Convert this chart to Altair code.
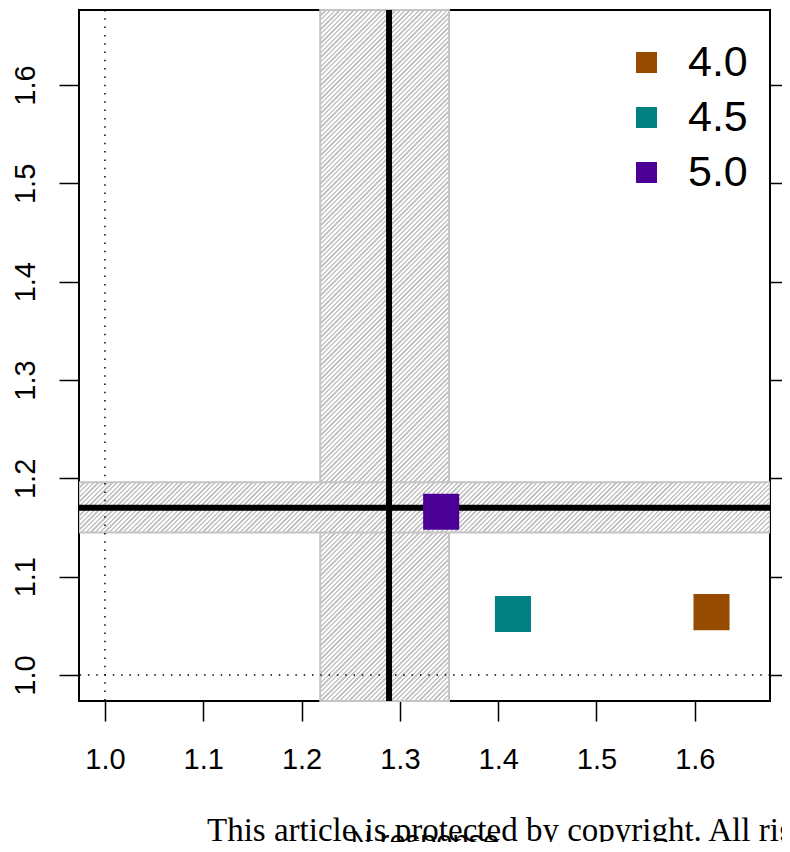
import altair as alt
import pandas as pd

# data
groups = ["4.0", "4.5", "5.0"]
n_resp = [1.617, 1.415, 1.342]
p_resp = [1.064, 1.062, 1.166]
colors = ["#964B00", "#008080", "#4B0096"]

x_est, x_lo, x_hi = 1.289, 1.219, 1.350
y_est, y_lo, y_hi = 1.170, 1.145, 1.196

x_dom = [0.9736, 1.6765]
y_dom = [0.9736, 1.6763]
ticks = [1.0, 1.1, 1.2, 1.3, 1.4, 1.5, 1.6]

FONT = "Liberation Sans"
W, H = 691, 691


def hatch(bw, bh, period=3.3, frac=0.45, col="#c6c6c6", bg="#ffffff"):
    """linear-gradient fill that imitates '////' hatching on a bw x bh px box"""
    k = 1.2 / max(bw, bh)
    x2, y2 = k * bw, k * bh
    px_per_t = k * (bw * bw + bh * bh) / 2 ** 0.5
    dt = period / px_per_t
    stops = []
    t = 0.0
    while t < 1.0:
        a = t
        b = min(t + dt * frac, 1.0)
        c = min(t + dt, 1.0)
        stops += [{"offset": a, "color": col}, {"offset": b, "color": col},
                  {"offset": b, "color": bg}, {"offset": c, "color": bg}]
        t += dt
    return {"gradient": "linear", "x1": 0, "y1": 0, "x2": x2, "y2": y2, "stops": stops}


vb_w = (x_hi - x_lo) / (x_dom[1] - x_dom[0]) * W
hb_h = (y_hi - y_lo) / (y_dom[1] - y_dom[0]) * H

pts = pd.DataFrame({"g": groups, "x": n_resp, "y": p_resp})
xs = alt.Scale(domain=x_dom, nice=False, zero=False)
ys = alt.Scale(domain=y_dom, nice=False, zero=False)

xaxis = alt.Axis(values=ticks, format=".1f", grid=False, domain=False, tickSize=20,
                 tickWidth=1.5, tickColor="black", labelFontSize=29, labelFont=FONT,
                 labelColor="black", labelPadding=24, title="N response",
                 titleFont=FONT, titleFontSize=29, titleFontWeight="normal",
                 titleColor="black", titlePadding=53)
yaxis = alt.Axis(orient="left", values=ticks, format=".1f", grid=False, domain=False, tickSize=20,
                 tickWidth=1.5, tickColor="black", labelFontSize=29, labelFont=FONT,
                 labelColor="black", labelAngle=270, labelAlign="center",
                 labelBaseline="bottom", labelPadding=19, title=None)

vband = alt.Chart(pd.DataFrame({"a": [x_lo], "b": [x_hi], "c": [y_dom[0]], "d": [y_dom[1]]})).mark_rect(
    fill=hatch(vb_w, H), stroke="#c4c4c4", strokeWidth=2
).encode(x=alt.X("a:Q", scale=xs, axis=xaxis), x2="b", y=alt.Y("c:Q", scale=ys, axis=yaxis), y2="d")

hband = alt.Chart(pd.DataFrame({"a": [x_dom[0]], "b": [x_dom[1]], "c": [y_lo], "d": [y_hi]})).mark_rect(
    fill=hatch(W, hb_h), stroke="#c4c4c4", strokeWidth=2, clip=True
).encode(x=alt.X("a:Q", scale=xs), x2="b", y=alt.Y("c:Q", scale=ys, axis=None), y2="d")

dot_v = alt.Chart(pd.DataFrame({"v": [1.0]})).mark_rule(
    color="black", strokeWidth=1.5, strokeDash=[1.5, 6.8]).encode(x=alt.X("v:Q", scale=xs))
dot_h = alt.Chart(pd.DataFrame({"v": [1.0]})).mark_rule(
    color="black", strokeWidth=1.5, strokeDash=[1.5, 6.8]).encode(y=alt.Y("v:Q", scale=ys, axis=None))

est_v = alt.Chart(pd.DataFrame({"v": [x_est]})).mark_rule(
    color="black", strokeWidth=6).encode(x=alt.X("v:Q", scale=xs))
est_h = alt.Chart(pd.DataFrame({"v": [y_est]})).mark_rule(
    color="black", strokeWidth=6).encode(y=alt.Y("v:Q", scale=ys, axis=None))

sq = alt.Chart(pts).mark_square(size=1300, opacity=1, filled=True).encode(
    x=alt.X("x:Q", scale=xs),
    y=alt.Y("y:Q", scale=ys, axis=None),
    color=alt.Color("g:N", scale=alt.Scale(domain=groups, range=colors),
                    legend=alt.Legend(title=None, orient="none", legendX=546, legendY=31,
                                      symbolType="square", symbolSize=441, symbolStrokeWidth=0,
                                      labelFontSize=43, labelFont=FONT, labelColor="black",
                                      labelOffset=20, rowPadding=11, padding=0)),
)

right_ticks = alt.Chart(pd.DataFrame({"v": ticks})).mark_point(opacity=0).encode(
    y=alt.Y("v:Q", scale=ys, axis=alt.Axis(orient="right", values=ticks, labels=False,
                                           domain=False, grid=False, tickSize=20, tickWidth=1.5,
                                           tickColor="black", title=None))
)

footer = alt.Chart(pd.DataFrame({"t": ["This article is protected by copyright. All rig"]})).mark_text(
    font="Liberation Serif", fontSize=33, align="left", baseline="alphabetic", color="black", clip=False
).encode(text="t:N", x=alt.value(128), y=alt.value(831))

chart = alt.layer(vband, hband, dot_v, dot_h, est_v, est_h, sq, right_ticks, footer).resolve_axis(
    y="independent"
).properties(
    width=W, height=H,
    autosize=alt.AutoSizeParams(type="none"),
    padding={"left": 71, "top": 2, "right": 12, "bottom": 141},
).configure_view(stroke="black", strokeWidth=2)

chart.save("out.html", embed_options={"renderer": "svg", "actions": False})
